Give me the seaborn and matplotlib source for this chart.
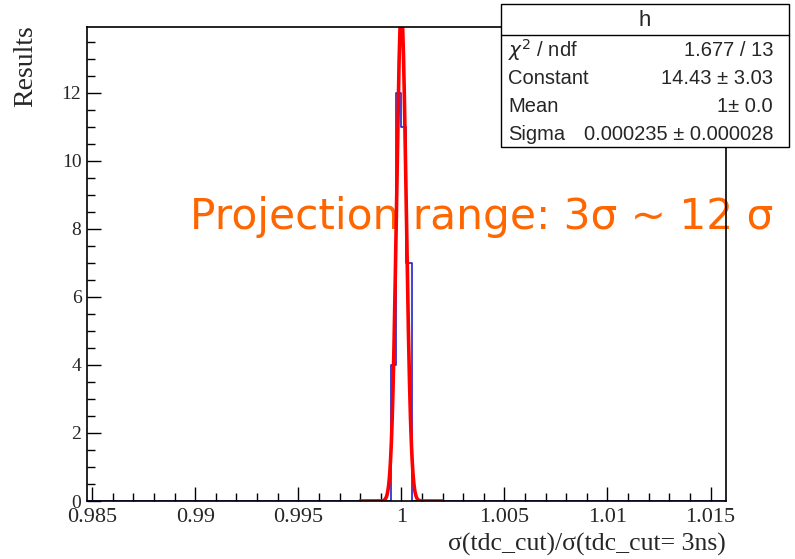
import numpy as np
import pandas as pd
import matplotlib
matplotlib.use("Agg")
import matplotlib.pyplot as plt
import seaborn as sns
from matplotlib.ticker import MultipleLocator, FuncFormatter
from matplotlib.patches import Rectangle

# histogram content (non-empty bins only, left edges)
bin_lefts = [0.9995, 0.99975, 1.0, 1.00025]
bin_counts = [4, 12, 11, 7]
bin_width = 0.00025
hist_range = (0.98475, 1.01575)

# gaussian fit result
fit_constant = 14.43
fit_mean = 1.0
fit_sigma = 0.000235
fit_range = (0.998, 1.002)

stat_title = "h"
stat_names = [r"$\chi^{2}$ / ndf", "Constant", "Mean", "Sigma"]
stat_values = ["1.677 / 13", "14.43 \u00b1 3.03", "1\u00b1 0.0", "0.000235 \u00b1 0.000028"]

note_text = "Projection range: 3\u03c3 ~ 12 \u03c3"
x_title = "\u03c3(tdc_cut)/\u03c3(tdc_cut= 3ns)"
y_title = "Results"

sns.set_style("ticks")
plt.rcParams["font.family"] = ["Liberation Serif", "DejaVu Serif"]
plt.rcParams["mathtext.fontset"] = "dejavusans"

W, H = 795, 559
fig = plt.figure(figsize=(W / 100, H / 100), dpi=100)
ax = fig.add_axes([87 / W, 1 - 501 / H, (726 - 87) / W, (501 - 27) / H])

# histogram drawn as a ROOT-like step outline
n_bins = int(round((hist_range[1] - hist_range[0]) / bin_width))
edges = [float(e) for e in np.linspace(hist_range[0], hist_range[1], n_bins + 1)]
df = pd.DataFrame({"x": np.array(bin_lefts) + bin_width / 2, "w": bin_counts})
sns.histplot(data=df, x="x", weights="w", bins=edges, element="step", fill=False,
             color="#2222cc", linewidth=1.2, ax=ax)

# fitted gaussian
xf = np.linspace(fit_range[0], fit_range[1], 600)
yf = fit_constant * np.exp(-0.5 * ((xf - fit_mean) / fit_sigma) ** 2)
sns.lineplot(x=xf, y=yf, color="red", linewidth=2.6, ax=ax, zorder=5)

ax.set_xlim(hist_range)
ax.set_ylim(0, 13.94)

ax.xaxis.set_major_locator(MultipleLocator(0.005))
ax.xaxis.set_minor_locator(MultipleLocator(0.001))
ax.yaxis.set_major_locator(MultipleLocator(2))
ax.yaxis.set_minor_locator(MultipleLocator(0.5))
ax.xaxis.set_major_formatter(FuncFormatter(lambda v, p: "%g" % round(v, 4)))
ax.yaxis.set_major_formatter(FuncFormatter(lambda v, p: "%g" % round(v, 4)))

ax.tick_params(which="both", direction="in", color="black", width=1.0)
ax.tick_params(which="major", length=10)
ax.tick_params(which="minor", length=5.5)
ax.tick_params(axis="x", labelsize=16, pad=5)
ax.tick_params(axis="y", labelsize=14, pad=4)
for s in ax.spines.values():
    s.set_color("black")
    s.set_linewidth(1.2)
    s.set_zorder(10)

ax.set_xlabel(x_title, fontsize=18.5, loc="right")
ax.xaxis.set_label_coords(1.0, -0.068)
ax.set_ylabel(y_title, fontsize=20, loc="top")
ax.yaxis.set_label_coords(-0.077, 1.004)

# stat box (figure pixels)
bx0, bx1, by0, by1, hy = 501, 789, 4, 147, 35
fig.patches.append(Rectangle((bx0 / W, 1 - by1 / H), (bx1 - bx0) / W, (by1 - by0) / H,
                             transform=fig.transFigure, facecolor="white",
                             edgecolor="black", linewidth=1.0, zorder=20))
fig.lines.append(plt.Line2D([bx0 / W, bx1 / W], [1 - hy / H, 1 - hy / H],
                            transform=fig.transFigure, color="black", linewidth=1.0, zorder=21))
sf = ["Liberation Sans", "DejaVu Sans"]
fig.text((bx0 + bx1) / 2 / W, 1 - 20 / H, stat_title, ha="center", va="center",
         fontsize=16, family=sf, zorder=22)
row_y = [50, 78, 106, 134]
for name, val, yy in zip(stat_names, stat_values, row_y):
    fig.text(508 / W, 1 - yy / H, name, ha="left", va="center", fontsize=14.5, family=sf, zorder=22)
    fig.text(773 / W, 1 - yy / H, val, ha="right", va="center", fontsize=14.5, family=sf, zorder=22)

# annotation
ax.text(190 / W, 1 - 229 / H, note_text, transform=fig.transFigure, ha="left",
        va="baseline", fontsize=30.4, color="#ff6600", family=["DejaVu Sans"],
        clip_on=False, zorder=1)

fig.savefig("out.png", dpi=100)
